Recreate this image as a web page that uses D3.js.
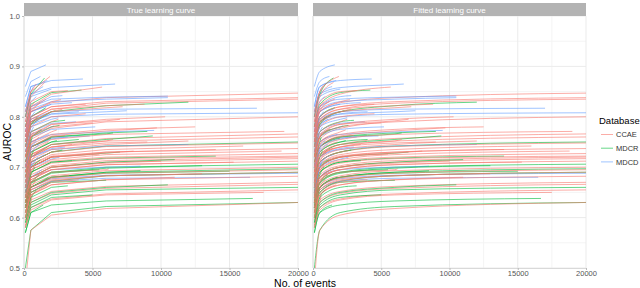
<!DOCTYPE html>
<html>
<head>
<meta charset="utf-8">
<script src="https://cdn.jsdelivr.net/npm/d3@7"></script>
<style>
	body { margin: 0; background: white; }
	text { font-family: "Liberation Sans", Arial, sans-serif; }
</style>
</head>
<body>
<script>
// AUROC read at these event counts (then at the curve's last event count)
var eventGrid = [100, 500, 2000, 6000]

// each curve: [last no. of events, AUROC at grid points below it..., AUROC at end]
var ccae = [
	[20000, 0.78, 0.81, 0.828, 0.838, 0.847],
	[20000, 0.77, 0.80, 0.82, 0.83, 0.838],
	[20000, 0.76, 0.795, 0.815, 0.827, 0.835],
	[20000, 0.72, 0.755, 0.777, 0.79, 0.80],
	[20000, 0.70, 0.725, 0.745, 0.757, 0.766],
	[20000, 0.69, 0.72, 0.74, 0.752, 0.76],
	[20000, 0.68, 0.71, 0.73, 0.741, 0.748],
	[20000, 0.65, 0.685, 0.703, 0.713, 0.72],
	[20000, 0.645, 0.68, 0.70, 0.71, 0.717],
	[20000, 0.63, 0.665, 0.683, 0.693, 0.70],
	[20000, 0.60, 0.635, 0.652, 0.662, 0.67],
	[20000, 0.595, 0.63, 0.648, 0.658, 0.666],
	[20000, 0.585, 0.62, 0.637, 0.647, 0.655],
	[20000, 0.47, 0.575, 0.605, 0.618, 0.63],
	[20000, 0.66, 0.695, 0.712, 0.72, 0.727],
	[20000, 0.62, 0.655, 0.673, 0.683, 0.69],
	[20000, 0.64, 0.675, 0.695, 0.705, 0.712],
	[20000, 0.61, 0.645, 0.665, 0.675, 0.682],
	[20000, 0.67, 0.70, 0.72, 0.73, 0.737],
	[20000, 0.63, 0.66, 0.678, 0.688, 0.695],
	[20000, 0.65, 0.69, 0.708, 0.717, 0.722],
	[19000, 0.70, 0.735, 0.755, 0.765, 0.771],
	[18800, 0.66, 0.695, 0.715, 0.725, 0.732],
	[17500, 0.58, 0.615, 0.635, 0.645, 0.65],
	[16000, 0.67, 0.705, 0.725, 0.735, 0.742],
	[15300, 0.64, 0.675, 0.695, 0.705, 0.71],
	[14000, 0.67, 0.705, 0.722, 0.73, 0.735],
	[13000, 0.62, 0.655, 0.675, 0.683, 0.687],
	[12500, 0.71, 0.745, 0.765, 0.775, 0.78],
	[12000, 0.68, 0.715, 0.735, 0.745, 0.752],
	[11000, 0.61, 0.645, 0.665, 0.675, 0.68],
	[10300, 0.72, 0.76, 0.785, 0.795, 0.80],
	[10000, 0.64, 0.68, 0.70, 0.708, 0.712],
	[9700, 0.70, 0.74, 0.762, 0.772, 0.778],
	[9000, 0.69, 0.725, 0.74, 0.748, 0.75],
	[8800, 0.76, 0.795, 0.815, 0.822, 0.825],
	[8000, 0.66, 0.70, 0.72, 0.728, 0.732],
	[7200, 0.75, 0.79, 0.81, 0.818, 0.82],
	[7000, 0.73, 0.765, 0.785, 0.792, 0.795],
	[6500, 0.69, 0.725, 0.745, 0.752, 0.755],
	[6200, 0.63, 0.67, 0.69, 0.695, 0.697],
	[5700, 0.78, 0.82, 0.845, 0.859],
	[5500, 0.66, 0.70, 0.72, 0.726],
	[5000, 0.72, 0.76, 0.78, 0.788],
	[4500, 0.74, 0.78, 0.80, 0.806],
	[4500, 0.76, 0.80, 0.82, 0.825],
	[4000, 0.61, 0.65, 0.67, 0.675],
	[3800, 0.64, 0.68, 0.70, 0.705],
	[3500, 0.68, 0.72, 0.74, 0.745],
	[3300, 0.62, 0.66, 0.68, 0.684],
	[3200, 0.79, 0.83, 0.85, 0.852],
	[3000, 0.70, 0.74, 0.76, 0.763],
	[2800, 0.75, 0.79, 0.81, 0.815],
	[2700, 0.77, 0.81, 0.83, 0.834],
	[2600, 0.67, 0.71, 0.73, 0.733],
	[2500, 0.73, 0.77, 0.79, 0.795],
	[2400, 0.71, 0.75, 0.77, 0.774],
	[2200, 0.66, 0.70, 0.72, 0.722],
	[2000, 0.64, 0.68, 0.695],
	[1900, 0.80, 0.85, 0.88],
	[1800, 0.69, 0.73, 0.75],
	[1700, 0.60, 0.645, 0.665],
	[1600, 0.77, 0.815, 0.835],
	[1500, 0.79, 0.84, 0.868],
	[1500, 0.68, 0.72, 0.738],
	[1400, 0.63, 0.67, 0.69],
	[1300, 0.74, 0.785, 0.80],
	[1200, 0.76, 0.81, 0.83],
	[1200, 0.72, 0.76, 0.775],
	[1100, 0.70, 0.745, 0.76],
	[1000, 0.67, 0.71, 0.73],
	[1000, 0.75, 0.79, 0.80],
	[900, 0.62, 0.66, 0.675],
	[900, 0.81, 0.85, 0.865],
	[800, 0.65, 0.69, 0.705],
	[800, 0.78, 0.82, 0.83],
	[700, 0.72, 0.76, 0.77],
	[600, 0.58, 0.63, 0.645],
	[400, 0.60, 0.64]
]

var mdcr = [
	[20000, 0.50, 0.575, 0.61, 0.622, 0.63],
	[20000, 0.67, 0.71, 0.73, 0.742, 0.75],
	[20000, 0.63, 0.67, 0.69, 0.70, 0.706],
	[20000, 0.61, 0.65, 0.672, 0.683, 0.69],
	[20000, 0.59, 0.625, 0.645, 0.655, 0.66],
	[20000, 0.62, 0.66, 0.68, 0.69, 0.697],
	[16700, 0.57, 0.61, 0.625, 0.633, 0.638],
	[15000, 0.62, 0.66, 0.68, 0.688, 0.692],
	[14000, 0.65, 0.69, 0.71, 0.718, 0.722],
	[13000, 0.63, 0.668, 0.688, 0.698, 0.703],
	[12000, 0.74, 0.785, 0.81, 0.822, 0.829],
	[11000, 0.64, 0.68, 0.70, 0.71, 0.715],
	[10500, 0.59, 0.63, 0.65, 0.66, 0.665],
	[9400, 0.68, 0.72, 0.745, 0.755, 0.762],
	[9000, 0.70, 0.74, 0.76, 0.768, 0.771],
	[8500, 0.62, 0.66, 0.68, 0.69, 0.693],
	[7000, 0.66, 0.70, 0.72, 0.728, 0.73],
	[6500, 0.70, 0.74, 0.76, 0.766, 0.768],
	[6000, 0.61, 0.65, 0.67, 0.674],
	[5500, 0.63, 0.67, 0.69, 0.695],
	[5000, 0.58, 0.62, 0.64, 0.645],
	[4200, 0.78, 0.825, 0.848, 0.853],
	[4000, 0.69, 0.73, 0.75, 0.755],
	[3500, 0.65, 0.69, 0.71, 0.713],
	[3200, 0.60, 0.64, 0.66, 0.663],
	[3000, 0.73, 0.77, 0.79, 0.793],
	[2800, 0.67, 0.71, 0.73, 0.734],
	[2600, 0.72, 0.76, 0.78, 0.783],
	[2400, 0.69, 0.73, 0.75, 0.753],
	[2300, 0.75, 0.79, 0.81, 0.812],
	[2000, 0.70, 0.74, 0.758],
	[2000, 0.66, 0.70, 0.72],
	[1800, 0.62, 0.66, 0.68],
	[1600, 0.76, 0.80, 0.818],
	[1500, 0.80, 0.845, 0.877],
	[1400, 0.57, 0.61, 0.625],
	[1300, 0.72, 0.76, 0.775],
	[1200, 0.66, 0.70, 0.715],
	[1100, 0.63, 0.67, 0.685],
	[1000, 0.74, 0.785, 0.80],
	[900, 0.60, 0.64, 0.655],
	[800, 0.64, 0.685, 0.70],
	[700, 0.68, 0.72, 0.733],
	[600, 0.71, 0.75, 0.76],
	[500, 0.62, 0.66]
]

var mdcd = [
	[20000, 0.74, 0.785, 0.80, 0.805, 0.808],
	[20000, 0.62, 0.66, 0.677, 0.684, 0.688],
	[17000, 0.75, 0.795, 0.81, 0.815, 0.817],
	[16500, 0.62, 0.655, 0.672, 0.678, 0.68],
	[12000, 0.68, 0.72, 0.735, 0.742, 0.745],
	[10500, 0.78, 0.82, 0.835, 0.839, 0.841],
	[10500, 0.77, 0.815, 0.83, 0.835, 0.838],
	[9500, 0.71, 0.75, 0.765, 0.77, 0.773],
	[8500, 0.64, 0.68, 0.695, 0.70, 0.702],
	[7500, 0.75, 0.79, 0.805, 0.81, 0.812],
	[6650, 0.81, 0.845, 0.858, 0.864, 0.865],
	[5200, 0.72, 0.76, 0.775, 0.78],
	[4800, 0.70, 0.74, 0.758, 0.762],
	[4300, 0.82, 0.86, 0.872, 0.875],
	[4000, 0.75, 0.79, 0.806, 0.81],
	[3800, 0.73, 0.77, 0.787, 0.79],
	[3500, 0.77, 0.81, 0.825, 0.828],
	[3200, 0.70, 0.74, 0.756, 0.76],
	[3000, 0.68, 0.72, 0.737, 0.74],
	[2800, 0.78, 0.82, 0.84, 0.842],
	[2600, 0.66, 0.70, 0.716, 0.72],
	[2500, 0.74, 0.78, 0.795, 0.798],
	[2200, 0.72, 0.765, 0.78, 0.782],
	[2000, 0.80, 0.84, 0.855],
	[2000, 0.77, 0.81, 0.825],
	[1800, 0.71, 0.75, 0.765],
	[1700, 0.82, 0.86, 0.872],
	[1600, 0.86, 0.89, 0.903],
	[1500, 0.76, 0.80, 0.815],
	[1500, 0.67, 0.71, 0.725],
	[1400, 0.80, 0.845, 0.86],
	[1300, 0.64, 0.68, 0.695],
	[1200, 0.84, 0.87, 0.88],
	[1100, 0.69, 0.73, 0.745],
	[1100, 0.74, 0.78, 0.795],
	[1000, 0.65, 0.70, 0.72],
	[900, 0.79, 0.83, 0.84],
	[900, 0.70, 0.74, 0.752],
	[800, 0.76, 0.80, 0.81],
	[700, 0.73, 0.77, 0.78],
	[700, 0.81, 0.85, 0.86],
	[600, 0.66, 0.70, 0.712],
	[600, 0.70, 0.735, 0.745],
	[500, 0.75, 0.78]
]

var databases = ["CCAE", "MDCR", "MDCD"]
var panels = ["True learning curve", "Fitted learning curve"]
var xTicks = [0, 5000, 10000, 15000, 20000]
var yTicks = [0.5, 0.6, 0.7, 0.8, 0.9, 1.0]

// turn a curve row into points
function toPoints(row){
	var n = row[0]
	var xs = eventGrid.filter((g) => g < n).concat([n])
	return xs.map((x, i) => ({x: x, y: row[i + 1]}))
}

// mix the three databases so no colour sits on top of everything
var curves = []
var lists = [ccae, mdcr, mdcd]
var longest = d3.max(lists, (l) => l.length)
for(var i = 0; i < longest; i++){
	lists.forEach(function(l, j){
		if(i < l.length) curves.push({db: databases[j], pts: toPoints(l[i])})
	})
}

var w = 640
var h = 288
var plotTop = 16
var plotBottom = 268
var panelX = [[24, 298], [313, 586]]

var colorScale = d3.scaleOrdinal()
	.domain(databases)
	.range(["#F8766D", "#00BA38", "#619CFF"])

var yScale = d3.scaleLinear()
	.domain([0.5, 1.0])
	.range([plotBottom, plotTop])

var svg = d3.select("body")
	.append("svg")
	.attr("width", w)
	.attr("height", h)

panels.forEach(function(title, p){
	var xScale = d3.scaleLinear()
		.domain([0, 20000])
		.range(panelX[p])

	var g = svg.append("g")

	g.append("clipPath")
		.attr("id", "clip" + p)
		.append("rect")
		.attr("x", panelX[p][0])
		.attr("y", plotTop)
		.attr("width", panelX[p][1] - panelX[p][0])
		.attr("height", plotBottom - plotTop)

	// minor grid
	g.selectAll(".minorx")
		.data([2500, 7500, 12500, 17500])
		.enter()
		.append("line")
		.attr("x1", (d) => xScale(d)).attr("x2", (d) => xScale(d))
		.attr("y1", plotTop).attr("y2", plotBottom)
		.attr("stroke", "#F4F4F4")
	g.selectAll(".minory")
		.data([0.55, 0.65, 0.75, 0.85, 0.95])
		.enter()
		.append("line")
		.attr("x1", panelX[p][0]).attr("x2", panelX[p][1])
		.attr("y1", (d) => yScale(d)).attr("y2", (d) => yScale(d))
		.attr("stroke", "#F4F4F4")

	// major grid
	g.selectAll(".majorx")
		.data(xTicks)
		.enter()
		.append("line")
		.attr("x1", (d) => xScale(d)).attr("x2", (d) => xScale(d))
		.attr("y1", plotTop).attr("y2", plotBottom)
		.attr("stroke", "#EBEBEB")
	g.selectAll(".majory")
		.data(yTicks)
		.enter()
		.append("line")
		.attr("x1", panelX[p][0]).attr("x2", panelX[p][1])
		.attr("y1", (d) => yScale(d)).attr("y2", (d) => yScale(d))
		.attr("stroke", "#EBEBEB")

	var line = d3.line()
		.x((d) => xScale(d.x))
		.y((d) => yScale(d.y))
		.curve(p == 0 ? d3.curveLinear : d3.curveMonotoneX)

	g.append("g")
		.attr("clip-path", "url(#clip" + p + ")")
		.selectAll("path")
		.data(curves)
		.enter()
		.append("path")
		.attr("d", (d) => line(d.pts))
		.attr("fill", "none")
		.attr("stroke", (d) => colorScale(d.db))
		.attr("stroke-width", 1)
		.attr("stroke-opacity", 0.6)

	// axis lines
	g.append("line")
		.attr("x1", panelX[p][0]).attr("x2", panelX[p][0])
		.attr("y1", plotTop).attr("y2", plotBottom)
		.attr("stroke", "#E0E0E0")

	var xAxis = g.append("g")
		.attr("transform", "translate(0," + plotBottom + ")")
		.call(d3.axisBottom(xScale).tickValues(xTicks).tickSize(2).tickPadding(1).tickFormat(d3.format("d")))
	xAxis.select(".domain").attr("stroke", "#D9D9D9")
	xAxis.selectAll(".tick line").attr("stroke", "#BBBBBB")
	xAxis.selectAll("text").attr("fill", "#555").style("font-size", "7.5px")

	if(p == 0){
		var yAxis = g.append("g")
			.attr("transform", "translate(" + panelX[p][0] + ",0)")
			.call(d3.axisLeft(yScale).tickValues(yTicks).tickSize(2).tickPadding(2).tickFormat(d3.format(".1f")))
		yAxis.select(".domain").remove()
		yAxis.selectAll(".tick line").attr("stroke", "#BBBBBB")
		yAxis.selectAll("text").attr("fill", "#555").style("font-size", "7.5px")
	}

	// strip
	g.append("rect")
		.attr("x", panelX[p][0])
		.attr("y", 3)
		.attr("width", panelX[p][1] - panelX[p][0])
		.attr("height", 13)
		.attr("fill", "#B3B3B3")
	g.append("text")
		.attr("x", (panelX[p][0] + panelX[p][1]) / 2)
		.attr("y", 12.5)
		.attr("text-anchor", "middle")
		.attr("fill", "white")
		.style("font-size", "8px")
		.text(title)
})

svg.append("text")
	.attr("x", 305)
	.attr("y", 287)
	.attr("text-anchor", "middle")
	.style("font-size", "10.5px")
	.text("No. of events")

svg.append("text")
	.attr("transform", "translate(11,142) rotate(-90)")
	.attr("text-anchor", "middle")
	.style("font-size", "10.5px")
	.text("AUROC")

// legend
var legend = svg.append("g")
legend.append("text")
	.attr("x", 599)
	.attr("y", 124)
	.style("font-size", "9.5px")
	.text("Database")

legend.selectAll("line")
	.data(databases)
	.enter()
	.append("line")
	.attr("x1", 601).attr("x2", 613)
	.attr("y1", (d, i) => 134.5 + i * 13.7)
	.attr("y2", (d, i) => 134.5 + i * 13.7)
	.attr("stroke", (d) => colorScale(d))
	.attr("stroke-opacity", 0.6)
	.attr("stroke-width", 1)

legend.selectAll("text.lab")
	.data(databases)
	.enter()
	.append("text")
	.attr("class", "lab")
	.attr("x", 616)
	.attr("y", (d, i) => 137.2 + i * 13.7)
	.style("font-size", "7.5px")
	.attr("fill", "#333")
	.text((d) => d)
</script>
</body>
</html>
